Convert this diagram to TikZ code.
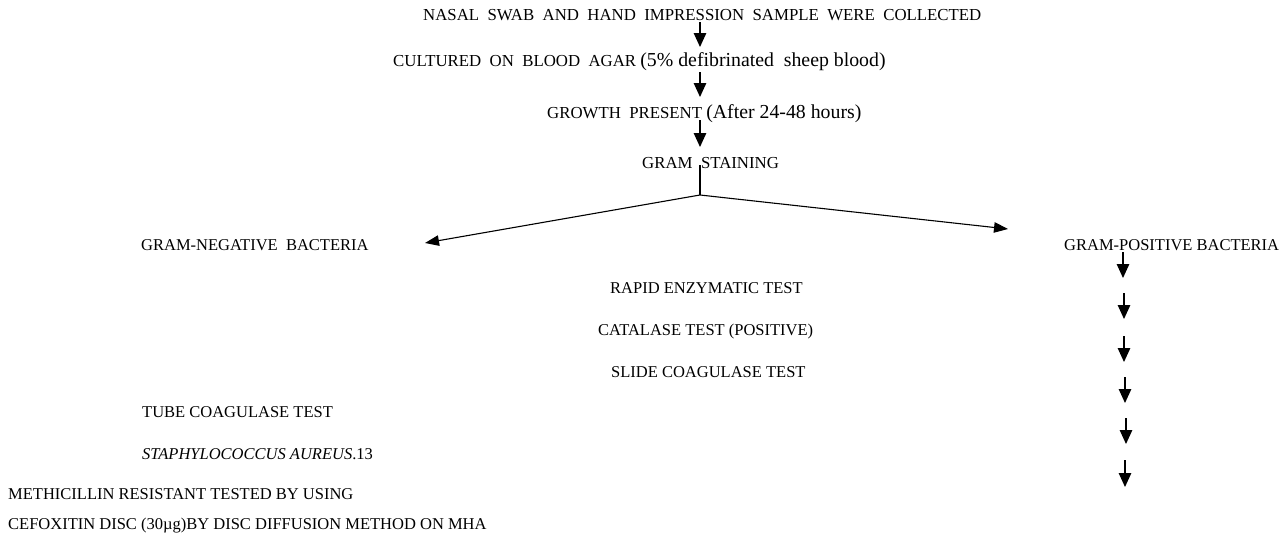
\documentclass[tikz,border=0pt]{standalone}
\usepackage{fontspec}
\setmainfont{Liberation Serif}
\usetikzlibrary{arrows.meta}
\newcommand\myparen{\fontsize{19.8}{22}\selectfont}
\begin{document}
\begin{tikzpicture}[x=1pt,y=1pt,
  toplbl/.style={anchor=base west,inner sep=0pt,font=\fontsize{16.8}{19}\selectfont},
  lbl/.style={anchor=base west,inner sep=0pt,font=\fontsize{16.5}{19}\selectfont},
  arr/.style={line width=1.3pt,-{Triangle[length=14pt,width=12.5pt]}},
  darr/.style={line width=1.1pt,-{Triangle[length=14pt,width=10.5pt]}},
  stemline/.style={line width=1.1pt}
]
\useasboundingbox (0,0) rectangle (1286,-538);

% texts
\node[toplbl] (nasal) at (423,-20) {NASAL~~SWAB~~AND~~HAND~~IMPRESSION~~SAMPLE~~WERE~~COLLECTED};
\node[toplbl] (cult) at (393,-66) {CULTURED~~ON~~BLOOD~~AGAR {\myparen (5\%~defibrinated~~sheep blood)}};
\node[toplbl] (growth) at (547,-118) {GROWTH~~PRESENT {\myparen (After 24-48 hours)}};
\node[toplbl] (gram) at (642,-168) {GRAM~~STAINING};
\node[lbl] (gneg) at (141,-250) {GRAM-NEGATIVE~~BACTERIA};
\node[lbl] (gpos) at (1064,-250) {GRAM-POSITIVE BACTERIA};
\node[lbl] (rapid) at (610,-293) {RAPID ENZYMATIC TEST};
\node[lbl] (cat) at (598,-335) {CATALASE TEST (POSITIVE)};
\node[lbl] (slide) at (611,-377) {SLIDE COAGULASE TEST};
\node[lbl] (tube) at (142,-417) {TUBE COAGULASE TEST};
\node[lbl] (staph) at (142,-459) {\itshape STAPHYLOCOCCUS AUREUS\upshape.13};
\node[lbl] (meth) at (8,-499) {METHICILLIN RESISTANT TESTED BY USING};
\node[lbl] (cef) at (8,-529) {CEFOXITIN DISC (30µg)BY DISC DIFFUSION METHOD ON MHA};

% connector end points
\coordinate (a1s) at (700,-22);  \coordinate (a1e) at (700,-47);
\coordinate (a2s) at (700,-72);  \coordinate (a2e) at (700,-97);
\coordinate (a3s) at (700,-120); \coordinate (a3e) at (700,-147);
\coordinate (stemtop) at (700,-165);
\coordinate (fork) at (700,-195);
\coordinate (negtip) at (425,-243);
\coordinate (postip) at (1008,-229);
\coordinate (r1s) at (1123,-252); \coordinate (r1e) at (1123,-278);
\coordinate (r2s) at (1124,-293); \coordinate (r2e) at (1124,-319);
\coordinate (r3s) at (1124,-336); \coordinate (r3e) at (1124,-362);
\coordinate (r4s) at (1125,-377); \coordinate (r4e) at (1125,-403);
\coordinate (r5s) at (1126,-418); \coordinate (r5e) at (1126,-444);
\coordinate (r6s) at (1125,-460); \coordinate (r6e) at (1125,-487);

% connectors
\draw[arr] (a1s) -- (a1e);
\draw[arr] (a2s) -- (a2e);
\draw[arr] (a3s) -- (a3e);
\draw[stemline] (stemtop) -- (fork);
\draw[darr] (fork) -- (negtip);
\draw[darr] (fork) -- (postip);
\draw[arr] (r1s) -- (r1e);
\draw[arr] (r2s) -- (r2e);
\draw[arr] (r3s) -- (r3e);
\draw[arr] (r4s) -- (r4e);
\draw[arr] (r5s) -- (r5e);
\draw[arr] (r6s) -- (r6e);
\end{tikzpicture}
\end{document}
